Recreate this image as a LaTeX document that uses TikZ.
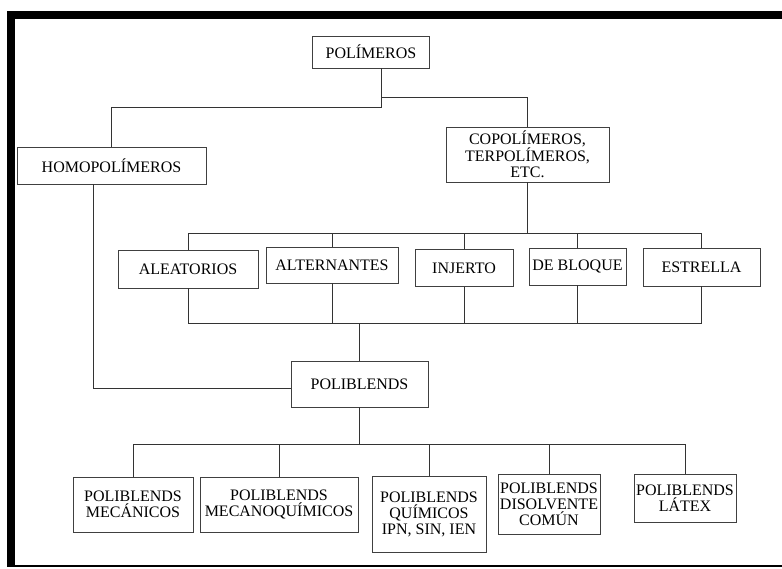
\documentclass[tikz,border=0pt]{standalone}
\usepackage{fontspec}
\setmainfont{Liberation Serif}
\usetikzlibrary{positioning}
\usetikzlibrary{calc}

\begin{document}
\begin{tikzpicture}[x=1pt, y=-1pt,
    box style/.style={
        rectangle, draw=black!75, line width=0.7pt,
        inner sep=1pt, align=center,
        font=\fontsize{16}{16}\selectfont
    },
    edge/.style={black!80, line width=0.7pt},
    frame/.style={fill=black}
]
\useasboundingbox (0,0) rectangle (782,569);
% marco
\fill[frame] (7,11) rectangle (782,19);
\fill[frame] (7,11) rectangle (15,567);
\fill[frame] (7,565) rectangle (782,567);

\node[box style, minimum width=117, minimum height=32] (pol) at (371,52) {POLÍMEROS};
\node[box style, minimum width=189, minimum height=37] (homo) at (111.5,165.5) {HOMOPOLÍMEROS};
\node[box style, minimum width=163, minimum height=55] (copo) at (527.5,154.5) {COPOLÍMEROS,\\TERPOLÍMEROS,\\ETC.};

\node[box style, minimum width=140, minimum height=38] (ale) at (188,269) {ALEATORIOS};
\node[box style, minimum width=132, minimum height=36] (alt) at (332,265) {ALTERNANTES};
\node[box style, minimum width=98, minimum height=37] (inj) at (464,268) {INJERTO};
\node[box style, minimum width=97, minimum height=37] (blo) at (577.5,266.5) {DE BLOQUE};
\node[box style, minimum width=117, minimum height=38] (est) at (701.5,267) {ESTRELLA};

\node[box style, minimum width=137, minimum height=46] (pbl) at (359.5,384) {POLIBLENDS};

\node[box style, minimum width=120, minimum height=55] (mec) at (133,504.5) {POLIBLENDS\\MECÁNICOS};
\node[box style, minimum width=158, minimum height=55] (meq) at (279,504.5) {POLIBLENDS\\MECANOQUÍMICOS};
\node[box style, minimum width=114, minimum height=76] (qui) at (429,514) {POLIBLENDS\\QUÍMICOS\\IPN, SIN, IEN};
\node[box style, minimum width=102, minimum height=60] (dis) at (549,504) {POLIBLENDS\\DISOLVENTE\\COMÚN};
\node[box style, minimum width=102, minimum height=48] (lat) at (685,498) {POLIBLENDS\\LÁTEX};

\coordinate (splitL) at (381,107);
\coordinate (splitR) at (381,97);
\coordinate (busA) at (0,233);
\coordinate (busB) at (0,323);
\coordinate (busC) at (0,444);
\coordinate (homoDrop) at (93,388);

\draw[edge] (splitL |- pol.south) -- (splitL) -| (homo.north);
\draw[edge] (splitR) -| (copo.north);

\draw[edge] (copo.south) -- (copo.south |- busA);
\draw[edge] (ale.north |- busA) -- (est.north |- busA);
\draw[edge] (ale.south |- busB) -- (est.south |- busB);
\foreach \n in {ale, alt, inj, blo, est}{
    \draw[edge] (\n.north) -- (\n.north |- busA);
    \draw[edge] (\n.south) -- (\n.south |- busB);
}
\draw[edge] (pbl.north) -- (pbl.north |- busB);

\draw[edge] (homoDrop |- homo.south) -- (homoDrop) -- (homoDrop -| pbl.west);

\draw[edge] (pbl.south) -- (pbl.south |- busC);
\draw[edge] (mec.north |- busC) -- (lat.north |- busC);
\foreach \n in {mec, meq, qui, dis, lat}
    \draw[edge] (\n.north) -- (\n.north |- busC);

\end{tikzpicture}
\end{document}
